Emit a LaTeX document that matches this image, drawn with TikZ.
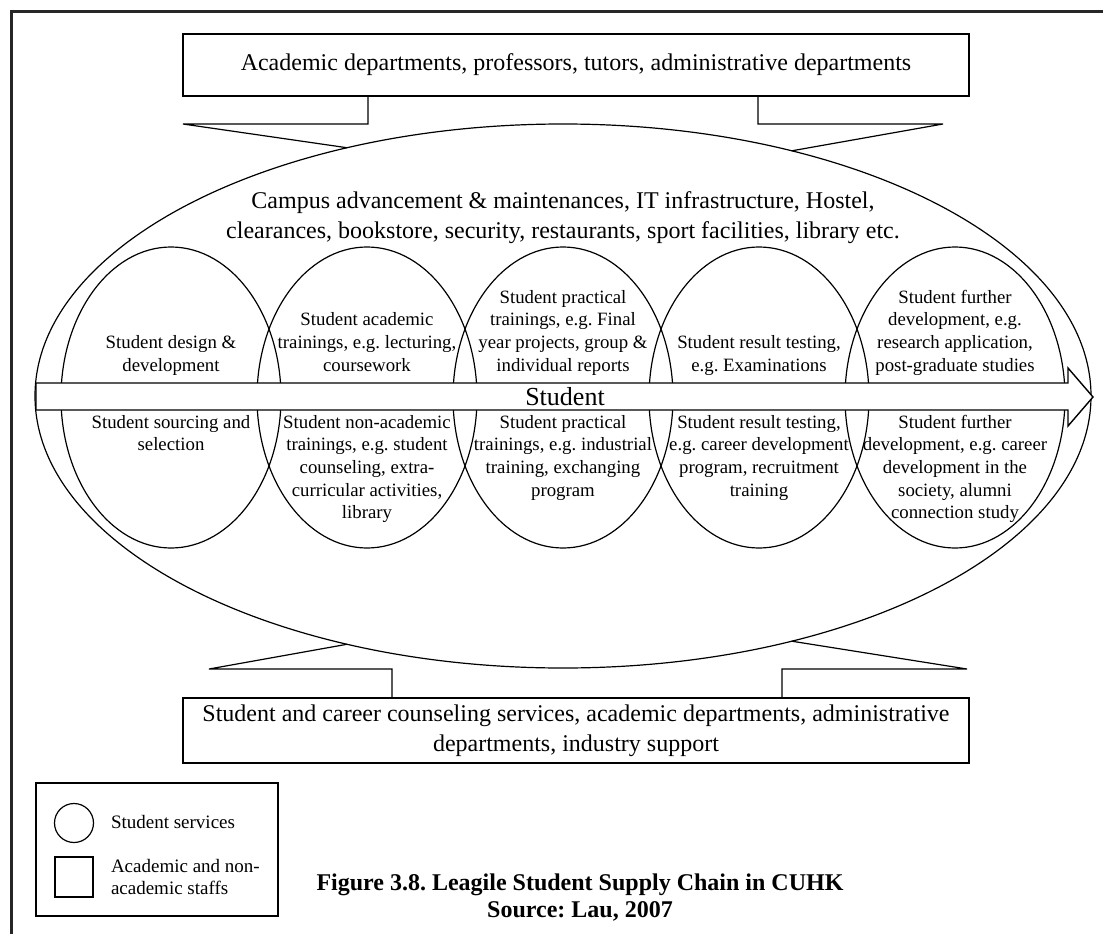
\documentclass[tikz,border=0pt]{standalone}
\usepackage{fontspec}
\setmainfont{Liberation Serif}
\usetikzlibrary{shapes.geometric}
\frenchspacing
\begin{document}
\begin{tikzpicture}[x=1pt,y=-1pt,
  every node/.style={inner sep=0pt, outer sep=0pt},
  thinline/.style={line width=1.2pt, draw=black},
  staffbox/.style={draw, line width=1.3pt, rectangle, align=center,
    minimum width=786pt, font=\fontsize{24}{30}\selectfont},
  service/.style={ellipse, draw, line width=1.2pt,
    minimum width=220pt, minimum height=301pt},
  stage/.style={align=center, font=\fontsize{18.8}{22.7}\selectfont},
  keytext/.style={align=left, font=\fontsize{19}{22}\selectfont},
]
\useasboundingbox (0,0) rectangle (1103,934);
\fill[white] (0,0) rectangle (1103,934);

% page frame
\draw[line width=3.6pt, black!85] (11.3,934) -- (11.3,11.5) -- (1103,11.5);

% staff boxes above and below
\node[staffbox, minimum height=62pt] (staff) at (576,65)
  {Academic departments, professors, tutors, administrative departments};
\node[staffbox, minimum height=65pt] (support) at (576,730.5)
  {Student and career counseling services, academic departments, administrative\\departments, industry support};

% campus services ellipse
\node[ellipse, draw, line width=1.2pt, minimum width=1056pt, minimum height=544pt] (campus) at (563,396) {};
\node[align=center, font=\fontsize{24}{30}\selectfont] (amenities) at (563,218)
  {Campus advancement \& maintenances, IT infrastructure, Hostel,\\clearances, bookstore, security, restaurants, sport facilities, library etc.};

% callout from the upper box
\coordinate (tlfoot) at (368,96);
\coordinate (tlknee) at (368,124);
\coordinate (tlwing) at (183,124);
\coordinate (trfoot) at (758,96);
\coordinate (trknee) at (758,124);
\coordinate (trwing) at (943,124);
\draw[thinline] (campus.131.8) -- (tlwing) -- (tlknee) -- (tlfoot);
\draw[thinline] (campus.47.8) -- (trwing) -- (trknee) -- (trfoot);

% callout from the lower box
\coordinate (blfoot) at (392,698);
\coordinate (blknee) at (392,669);
\coordinate (blwing) at (209,669);
\coordinate (brfoot) at (782,698);
\coordinate (brknee) at (782,669);
\coordinate (brwing) at (967,669);
\draw[thinline] (campus.229.6) -- (blwing) -- (blknee) -- (blfoot);
\draw[thinline] (campus.313.3) -- (brwing) -- (brknee) -- (brfoot);

% five student service stages
\foreach \i in {1,...,5}
  \node[service] (s\i) at ({171+196*(\i-1)},397.5) {};

% student flow arrow
\draw[line width=1.4pt, fill=white] (36,383) -- (1068,383) -- (1068,368) -- (1093,397)
  -- (1068,426) -- (1068,410) -- (36,410) -- cycle;
\node[font=\fontsize{26}{30}\selectfont] (flow) at (565,397) {Student};

% stage texts above the arrow
\node[stage, anchor=south] (u1) at (s1 |- 0,378) {Student design \&\\development\strut};
\node[stage, anchor=south] (u2) at (s2 |- 0,378) {Student academic\\trainings, e.g. lecturing,\\coursework\strut};
\node[stage, anchor=south] (u3) at (s3 |- 0,378) {Student practical\\trainings, e.g. Final\\year projects, group \&\\individual reports\strut};
\node[stage, anchor=south] (u4) at (s4 |- 0,378) {Student result testing,\\e.g. Examinations\strut};
\node[stage, anchor=south] (u5) at (s5 |- 0,378) {Student further\\development, e.g.\\research application,\\post-graduate studies\strut};

% stage texts below the arrow
\node[stage, anchor=north] (l1) at (s1 |- 0,412.3) {\strut Student sourcing and\\selection};
\node[stage, anchor=north] (l2) at (s2 |- 0,412.3) {\strut Student non-academic\\trainings, e.g. student\\counseling, extra-\\curricular activities,\\library};
\node[stage, anchor=north] (l3) at (s3 |- 0,412.3) {\strut Student practical\\trainings, e.g. industrial\\training, exchanging\\program};
\node[stage, anchor=north] (l4) at (s4 |- 0,412.3) {\strut Student result testing,\\e.g. career development\\program, recruitment\\training};
\node[stage, anchor=north] (l5) at (s5 |- 0,412.3) {\strut Student further\\development, e.g. career\\development in the\\society, alumni\\connection study};

% legend
\node[draw, line width=1.2pt, minimum width=242pt, minimum height=133pt] (legend) at (157,849.5) {};
\draw[line width=2.6pt] (legend.south west) -- (legend.south east);
\node[circle, draw, line width=1.2pt, minimum size=39pt] (keycircle) at (74,823) {};
\node[draw, line width=1.2pt, minimum width=38pt, minimum height=40pt] (keysquare) at (74,877) {};
\node[keytext, anchor=base west] (keycircletext) at (111,828) {Student services};
\node[keytext, anchor=north west] (keysquaretext) at (111,856.6) {\strut Academic and non-\\academic staffs};

% caption
\node[anchor=north, align=center, font=\bfseries\fontsize{24}{27}\selectfont] (caption) at (580,871.1)
  {\strut Figure 3.8. Leagile Student Supply Chain in CUHK\\Source: Lau, 2007};
\end{tikzpicture}
\end{document}
